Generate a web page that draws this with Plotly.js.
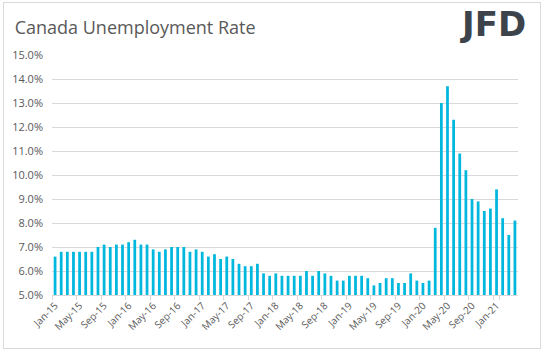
<!DOCTYPE html>
<html>
<head>
<meta charset="utf-8">
<script src="https://cdn.plot.ly/plotly-3.0.1.min.js"></script>
<style>
html,body{margin:0;padding:0;background:#fff;}
#wrap{position:absolute;left:0;top:0;width:543px;height:351px;}
#frame{position:absolute;left:3px;top:2px;width:536px;height:345px;border:1px solid #d9d9d9;pointer-events:none;}
#chart{position:absolute;left:0;top:0;width:543px;height:351px;}
</style>
</head>
<body>
<div id="wrap"><div id="chart"></div><div id="frame"></div></div>
<script>
const months = [
 "Jan-15","Feb-15","Mar-15","Apr-15","May-15","Jun-15","Jul-15","Aug-15","Sep-15","Oct-15","Nov-15","Dec-15",
 "Jan-16","Feb-16","Mar-16","Apr-16","May-16","Jun-16","Jul-16","Aug-16","Sep-16","Oct-16","Nov-16","Dec-16",
 "Jan-17","Feb-17","Mar-17","Apr-17","May-17","Jun-17","Jul-17","Aug-17","Sep-17","Oct-17","Nov-17","Dec-17",
 "Jan-18","Feb-18","Mar-18","Apr-18","May-18","Jun-18","Jul-18","Aug-18","Sep-18","Oct-18","Nov-18","Dec-18",
 "Jan-19","Feb-19","Mar-19","Apr-19","May-19","Jun-19","Jul-19","Aug-19","Sep-19","Oct-19","Nov-19","Dec-19",
 "Jan-20","Feb-20","Mar-20","Apr-20","May-20","Jun-20","Jul-20","Aug-20","Sep-20","Oct-20","Nov-20","Dec-20",
 "Jan-21","Feb-21","Mar-21","Apr-21"
];
const unemploymentRate = [
 6.6,6.8,6.8,6.8,6.8,6.8,6.8,7.0,7.1,7.0,7.1,7.1,
 7.2,7.3,7.1,7.1,6.9,6.8,6.9,7.0,7.0,7.0,6.8,6.9,
 6.8,6.6,6.7,6.5,6.6,6.5,6.3,6.2,6.2,6.3,5.9,5.8,
 5.9,5.8,5.8,5.8,5.8,6.0,5.8,6.0,5.9,5.8,5.6,5.6,
 5.8,5.8,5.8,5.7,5.4,5.5,5.7,5.7,5.5,5.5,5.9,5.6,
 5.5,5.6,7.8,13.0,13.7,12.3,10.9,10.2,9.0,8.9,8.5,8.6,
 9.4,8.2,7.5,8.1
];
const tickLabels = ["Jan-15","May-15","Sep-15","Jan-16","May-16","Sep-16","Jan-17","May-17","Sep-17",
 "Jan-18","May-18","Sep-18","Jan-19","May-19","Sep-19","Jan-20","May-20","Sep-20","Jan-21"];

const txt = '#595959';
const fontFam = 'Open Sans, sans-serif';

Plotly.newPlot('chart', [{
  type: 'bar',
  x: months,
  y: unemploymentRate,
  marker: {color: '#00B7DE'},
  hoverinfo: 'x+y'
}], {
  width: 543, height: 351,
  margin: {l: 52, r: 25, t: 55, b: 56, pad: 0},
  paper_bgcolor: '#fff', plot_bgcolor: '#fff',
  bargap: 0.55,
  showlegend: false,
  title: {text: 'Canada Unemployment Rate', x: 0.027, xref: 'container', xanchor: 'left',
          y: 0.922, yref: 'container', yanchor: 'middle',
          font: {family: fontFam, size: 18, color: txt}},
  xaxis: {
    type: 'category',
    tickmode: 'array', tickvals: tickLabels, ticktext: tickLabels,
    tickson: 'boundaries',
    tickangle: -45,
    ticks: 'outside', ticklen: 4, tickcolor: '#d9d9d9',
    showline: true, linecolor: '#d9d9d9', linewidth: 1,
    showgrid: false,
    tickfont: {family: fontFam, size: 10, color: txt},
    range: [-0.5, 75.5]
  },
  yaxis: {
    range: [5, 15], dtick: 1, tick0: 5,
    tickformat: '.1f', ticksuffix: '%',
    showgrid: true, gridcolor: '#d9d9d9', gridwidth: 1,
    zeroline: false, showline: false, ticks: '',
    tickfont: {family: fontFam, size: 11, color: txt},
    ticklabelstandoff: 8
  },
  annotations: [{
    text: '<b>JFD</b>', xref: 'paper', yref: 'paper', x: 1.022, y: 1.13,
    xanchor: 'right', yanchor: 'middle', showarrow: false,
    font: {family: 'DejaVu Sans', size: 34, color: '#3d434a'}
  }]
}, {displayModeBar: false, staticPlot: true});
</script>
</body>
</html>
